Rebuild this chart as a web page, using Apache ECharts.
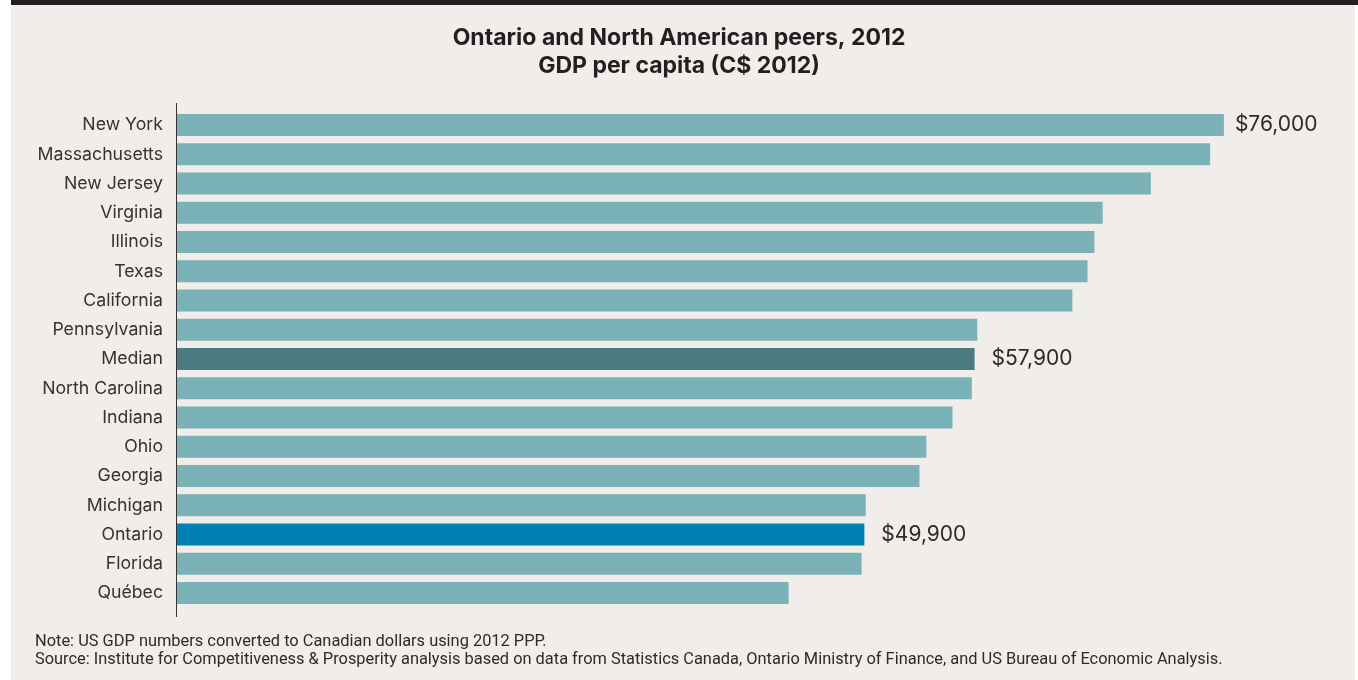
<!DOCTYPE html>
<html>
<head>
<meta charset="utf-8">
<style>
  html, body { margin: 0; padding: 0; background: #ffffff; }
  #chart { width: 1358px; height: 680px; }
</style>
<script src="https://cdn.jsdelivr.net/npm/echarts@6/dist/echarts.min.js"></script>
</head>
<body>
<div id="chart"></div>
<script>
// GDP per capita, 2012, in C$ (US states converted at 2012 PPP)
const regions = [
  'New York', 'Massachusetts', 'New Jersey', 'Virginia', 'Illinois', 'Texas',
  'California', 'Pennsylvania', 'Median', 'North Carolina', 'Indiana', 'Ohio',
  'Georgia', 'Michigan', 'Ontario', 'Florida', 'Québec'
];
const gdpPerCapita = [
  76000, 75000, 70700, 67200, 66600, 66100,
  65000, 58100, 57900, 57700, 56300, 54400,
  53900, 50000, 49900, 49700, 44400
];
// Bars that carry a value label
const labelled = ['New York', 'Median', 'Ontario'];

const titleLines = ['Ontario and North American peers, 2012', 'GDP per capita (C$ 2012)'];
const noteLines = [
  'Note: US GDP numbers converted to Canadian dollars using 2012 PPP.',
  'Source: Institute for Competitiveness & Prosperity analysis based on data from Statistics Canada, Ontario Ministry of Finance, and US Bureau of Economic Analysis.'
];

const COLOR_BAR = '#7bb2b7';
const COLOR_MEDIAN = '#4b7b81';
const COLOR_ONTARIO = '#0081b5';
const TEXT = '#2b2b2b';

const fmt = v => '$' + v.toLocaleString('en-US');

const seriesData = regions.map((name, i) => {
  const item = { value: gdpPerCapita[i], name: name };
  if (name === 'Median') item.itemStyle = { color: COLOR_MEDIAN };
  if (name === 'Ontario') item.itemStyle = { color: COLOR_ONTARIO };
  if (labelled.includes(name)) {
    item.label = {
      show: true,
      position: 'right',
      distance: name === 'New York' ? 11 : 17,
      formatter: p => fmt(p.value),
      fontFamily: 'Inter',
      fontSize: 21,
      color: TEXT,
      padding: [2, 0, 0, 0]
    };
  }
  return item;
});

const chart = echarts.init(document.getElementById('chart'), null, { renderer: 'canvas' });

chart.setOption({
  animation: false,
  backgroundColor: '#ffffff',
  textStyle: { fontFamily: 'Inter' },
  graphic: [
    { type: 'rect', z: -10, silent: true,
      shape: { x: 11, y: 0, width: 1344, height: 680 },
      style: { fill: '#f1edea' } },
    { type: 'rect', z: -9, silent: true,
      shape: { x: 11, y: 0, width: 1347, height: 5 },
      style: { fill: '#231f20' } },
    { type: 'line', z: 10, silent: true,
      shape: { x1: 176.5, y1: 103, x2: 176.5, y2: 617 },
      style: { stroke: '#333333', lineWidth: 1 } },
    { type: 'text', left: 35, top: 633, silent: true,
      style: { text: noteLines.join('\n'), fontFamily: 'Roboto', fontSize: 16.4,
               lineHeight: 18, fill: TEXT } }
  ],
  title: {
    text: titleLines.join('\n'),
    left: 'center',
    top: 19,
    textStyle: { fontFamily: 'Inter', fontWeight: 'bold', fontSize: 23,
                 lineHeight: 28, color: '#231f20' }
  },
  grid: { left: 177, top: 110.4, height: 497.3, right: 79 },
  xAxis: {
    type: 'value',
    min: 0,
    max: 80000,
    show: false
  },
  yAxis: {
    type: 'category',
    inverse: true,
    data: regions,
    axisLine: { show: false },
    axisTick: { show: false },
    axisLabel: { margin: 14, fontFamily: 'Inter', fontSize: 17.7, color: '#333333',
                 padding: [2, 0, 0, 0] }
  },
  series: [{
    type: 'bar',
    data: seriesData,
    barCategoryGap: '25%',
    itemStyle: { color: COLOR_BAR },
    label: { show: false }
  }]
});
</script>
</body>
</html>
